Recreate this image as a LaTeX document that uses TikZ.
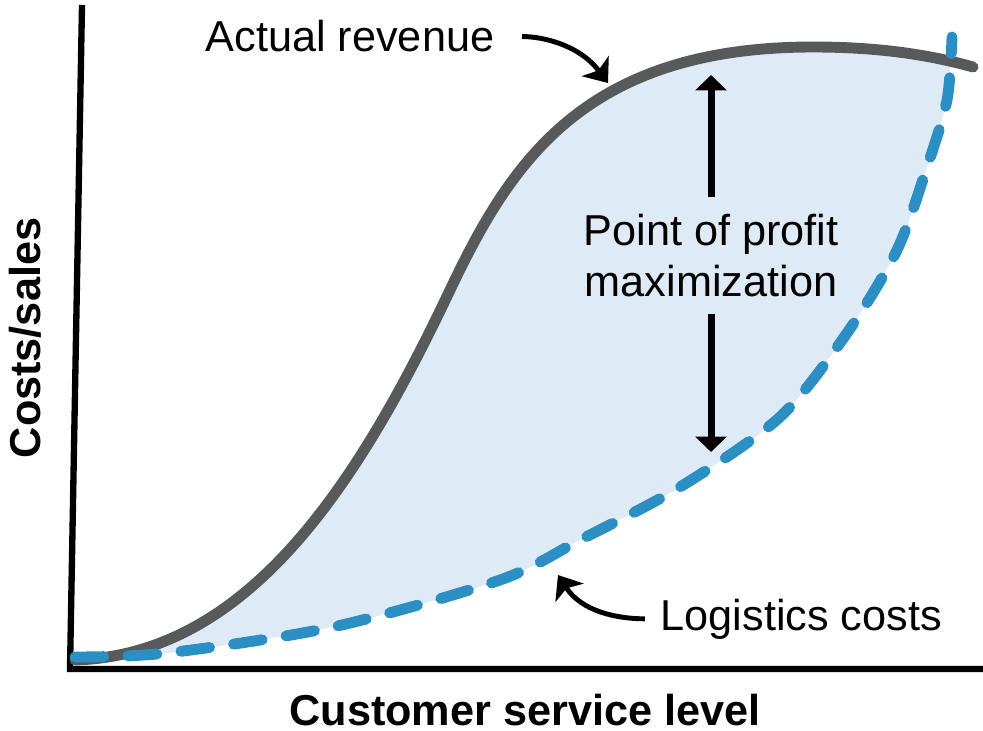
\documentclass[tikz,border=0pt]{standalone}
\usepackage{fontspec}
\setmainfont{Liberation Sans}
\usetikzlibrary{arrows.meta}
\definecolor{revgray}{HTML}{58595B}
\definecolor{costblue}{HTML}{2B8FC4}
\definecolor{gapfill}{HTML}{DEEBF6}

\begin{document}
\begin{tikzpicture}[x=0.01cm,y=0.01cm,
  axisline/.style={line width=1.8pt},
  lbl/.style={font=\fontsize{12.3}{14.5}\selectfont, inner sep=0pt},
  axislbl/.style={font=\fontsize{12.3}{14.5}\selectfont\bfseries, inner sep=0pt},
  curve/.style={line width=3.1pt, line cap=round},
  bendarrow/.style={line width=1.4pt, -{Stealth[width=9.5pt,length=6pt,inset=1.5pt]}},
  profarrow/.style={line width=2pt, -{Triangle[width=8.8pt,length=4.4pt]}}]
\useasboundingbox (0,0) rectangle (983,730);

% area between revenue and costs
\fill[gapfill] (75,70) .. controls (250,75) and (360,250) .. (450,440)
  .. controls (510,566) and (583,683) .. (813,683)
  .. controls (870,683) and (920,677) .. (950,669)
  -- plot[smooth] coordinates {(950,669) (947,630) (927,563) (897,480) (847,397) (780,313) (680,243) (580,190) (500,150) (333,103) (167,77) (75,73)} -- cycle;

% axes
\coordinate (top) at (82,725);
\coordinate (origin) at (70,61);
\coordinate (right) at (983,61);
\draw[axisline] (top) -- (origin) -- (right);

% curves
\draw[revgray, curve] (75,70) .. controls (250,75) and (360,250) .. (450,440)
  .. controls (510,566) and (583,683) .. (813,683)
  .. controls (880,683) and (930,675) .. (973,663);
\draw[costblue, curve, dash pattern=on 8.2pt off 6.9pt] plot[smooth] coordinates {(75,73) (167,77) (333,103) (500,150) (580,190) (680,243) (780,313) (847,397) (897,480) (927,563) (947,630) (952,693)};

% labels
\node[lbl, anchor=base west] (revenue) at (205,678) {Actual revenue};
\node[lbl, anchor=base west] (costs) at (660,100) {Logistics costs};
\node[lbl, align=center, inner ysep=4.6pt] (profit) at (711,474.5) {Point of profit\\maximization};
\node[axislbl, rotate=90, anchor=base] (ylabel) at (40,392) {Costs/sales};
\node[axislbl, anchor=base] (xlabel) at (525,5) {Customer service level};

% arrows
\coordinate (revtip) at (608,647);
\coordinate (costtip) at (558,155);
\coordinate (maxtop) at (711,655);
\coordinate (maxbot) at (711,278);
\draw[bendarrow, shorten <=7.7pt] (revenue.east) to[out=0, in=127] (revtip);
\draw[bendarrow, shorten <=4.3pt] (costs.west) to[out=180, in=-57] (costtip);
\draw[profarrow] (profit.north) -- (maxtop);
\draw[profarrow] (profit.south) -- (maxbot);
\end{tikzpicture}
\end{document}
